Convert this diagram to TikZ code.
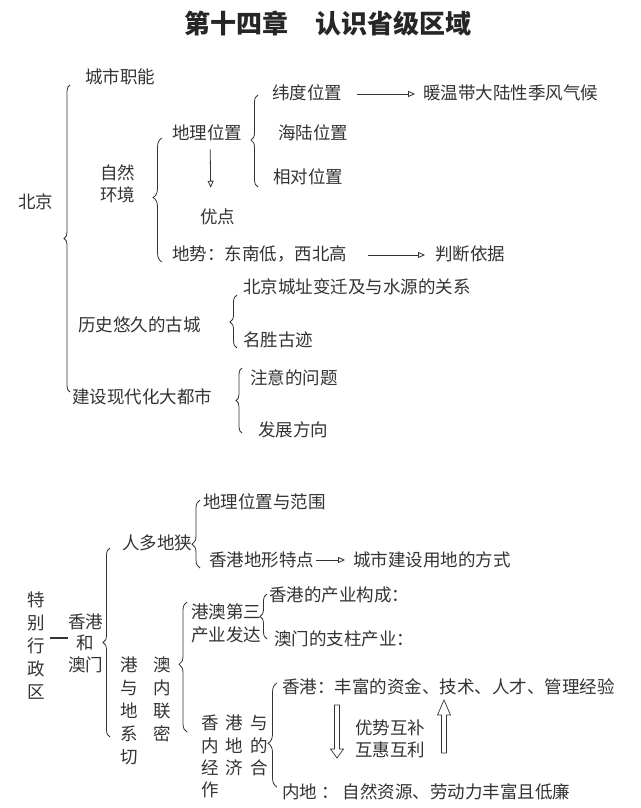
\documentclass[tikz,border=0pt]{standalone}
\usepackage{fontspec}
\setmainfont{Noto Sans CJK SC}
\usetikzlibrary{arrows.meta,decorations.pathreplacing,calc}
\definecolor{ink}{HTML}{333333}
\begin{document}
\begin{tikzpicture}[x=1pt,y=-1pt,
  txt/.style={anchor=west,inner sep=0pt,text=ink,font=\fontsize{17.5}{22}\selectfont},
  brc/.style={draw=ink,line width=0.8pt,decorate,decoration={brace,amplitude=6pt}},
  arr/.style={draw=ink,line width=0.8pt,-{Triangle[open,length=7pt,width=6pt]}},
  ln/.style={draw=ink,line width=0.8pt}
]
\fill[white] (0,0) rectangle (640,808);
\useasboundingbox (0,0) rectangle (640,808);

% title
\node[inner sep=0pt,text=black!85,font=\fontsize{26}{30}\selectfont\bfseries] (title) at (328,24) {第十四章\hspace{28pt}认识省级区域};

% ---------- Beijing ----------
\node[txt] (csz) at (85,77) {城市职能};
\node[txt] (bj) at (18,202) {北京};
\node[txt,align=center] (zr) at (100,184) {自然\\环境};
\node[txt] (dlwz) at (172,133) {地理位置};
\node[txt] (wd) at (272,93) {纬度位置};
\node[txt] (nw) at (423,93) {暖温带大陆性季风气候};
\node[txt] (hl) at (278,133) {海陆位置};
\node[txt] (xd) at (273,177) {相对位置};
\node[txt] (yd) at (200,217) {优点};
\node[txt] (ds) at (172,254) {地势：东南低，西北高};
\node[txt] (pd) at (435,254) {判断依据};
\node[txt] (ls) at (78,325) {历史悠久的古城};
\node[txt] (cz) at (243,287) {北京城址变迁及与水源的关系};
\node[txt] (ms) at (243,340) {名胜古迹};
\node[txt] (js) at (72,397) {建设现代化大都市};
\node[txt] (zy) at (250,378) {注意的问题};
\node[txt] (fz) at (258,430) {发展方向};

\draw[arr] ($(wd.east)+(15,1)$) -- ($(nw.west)+(-8,1)$);
\draw[arr] ($(ds.east)+(21,1)$) -- ($(pd.west)+(-10,1)$);
\draw[arr] ($(dlwz.south)+(3,8)$) -- ($(yd.north)+(-7,-21)$);

\draw[brc,decoration={amplitude=6pt,aspect=0.5}] (70,392) -- (70,85);
\draw[brc,decoration={amplitude=9pt,aspect=0.52}] (162,262) -- (162,138);
\draw[brc,decoration={amplitude=7pt,aspect=0.51}] (258,187) -- (258,95);
\draw[brc,decoration={amplitude=7pt,aspect=0.49}] (237,348) -- (237,295);
\draw[brc,decoration={amplitude=6pt,aspect=0.5}] (242,433) -- (242,368);

% ---------- Hong Kong & Macau ----------
\node[txt] (dl2) at (203,502) {地理位置与范围};
\node[txt] (rd) at (122,543) {人多地狭};
\node[txt] (dx) at (209,560) {香港地形特点};
\node[txt] (cs) at (353,560) {城市建设用地的方式};
\draw[arr] ($(dx.east)+(2,0)$) -- ($(cs.west)+(-8,0)$);

\node[txt] (cy) at (269,595) {香港的产业构成：};
\node[txt,align=left,font=\fontsize{17.5}{23}\selectfont] (ga) at (191,623) {港澳第三\\产业发达};
\node[txt] (am) at (274,639) {澳门的支柱产业：};

\node[txt,align=center,font=\fontsize{17.5}{23}\selectfont] (tb) at (27,646) {特\\别\\行\\政\\区};
\node[txt,align=center,font=\fontsize{17.5}{21.5}\selectfont] (xg) at (68,643) {香港\\和\\澳门};
\draw[ln,line width=1.2pt] ($(tb.east)+(5,-8)$) -- ($(xg.west)+(0,-5)$);

\node[txt,align=left,font=\fontsize{17.5}{23}\selectfont] (galn) at (120,711) {港\hspace{16pt}澳\\与\hspace{16pt}内\\地\hspace{16pt}联\\系\hspace{16pt}密\\切};
\node[txt,align=left,font=\fontsize{17.5}{22.3}\selectfont] (jj) at (201,756.5) {香\hspace{7pt}港\hspace{7pt}与\\内\hspace{7pt}地\hspace{7pt}的\\经\hspace{7pt}济\hspace{7pt}合\\作};

\node[txt] (hk) at (282,687) {香港：丰富的资金、技术、人才、管理经验};
\node[txt,align=left] (ys) at (355,739) {优势互补\\互惠互利};
\node[txt] (nd) at (282,792) {内地 ： 自然资源、劳动力丰富且低廉};

\draw[brc,decoration={amplitude=8pt,aspect=0.35}] (200,568) -- (200,500);
\draw[brc,decoration={amplitude=7pt,aspect=0.5}] (267,639) -- (267,594);
\draw[brc,decoration={amplitude=7pt,aspect=0.5}] (110,737) -- (110,548);
\draw[brc,decoration={amplitude=8pt,aspect=0.52}] (187,732) -- (187,602);
\draw[brc,decoration={amplitude=9pt,aspect=0.42}] (277,787) -- (277,683);

% hollow arrows
\coordinate (dnA) at (337,705);
\coordinate (upA) at (444,753);
\draw[ln,line width=0.7pt] ($(dnA)+(-2.5,0)$) -- ++(0,44) -- ++(-4,0) -- ($(dnA)+(0,53)$) -- ($(dnA)+(6.5,44)$) -- ++(-4,0) -- ($(dnA)+(2.5,0)$) -- cycle;
\draw[ln,line width=0.7pt] ($(upA)+(-2.5,0)$) -- ++(0,-38) -- ++(-4,0) -- ($(upA)+(0,-53)$) -- ($(upA)+(6.5,-38)$) -- ++(-4,0) -- ($(upA)+(2.5,0)$) -- cycle;
\end{tikzpicture}
\end{document}
